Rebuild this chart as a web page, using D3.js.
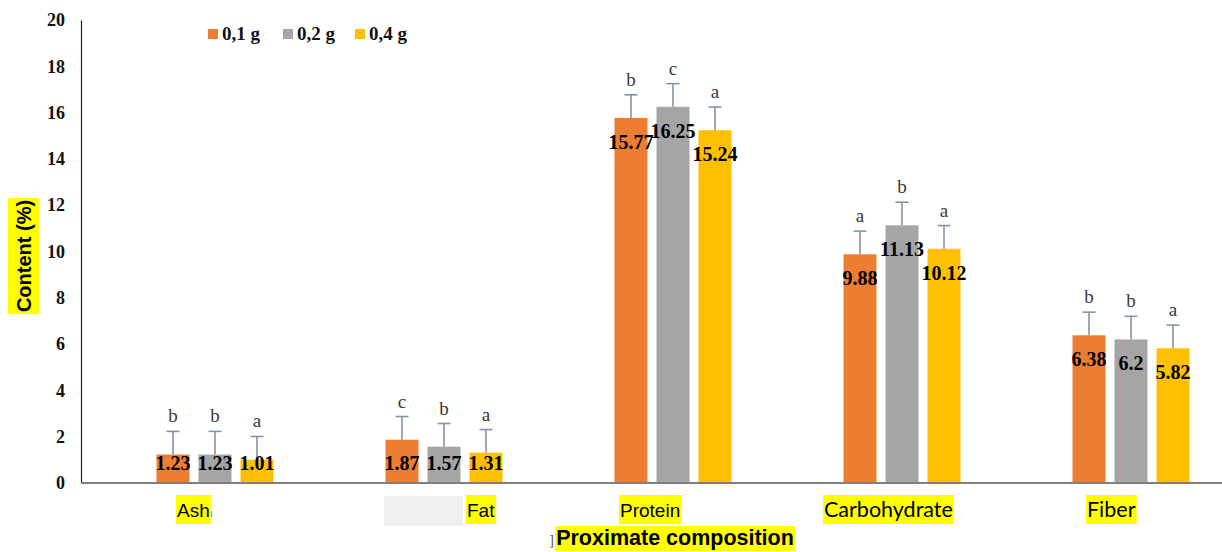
<!DOCTYPE html>
<html>
<head>
<meta charset="utf-8">
<script src="https://cdn.jsdelivr.net/npm/d3@7"></script>
<style>
  html, body { margin: 0; padding: 0; background: #fff; }
  svg { display: block; }
</style>
</head>
<body>
<svg id="chart" width="1222" height="552"></svg>
<script>
// Proximate composition by sample dose
const categories = ["Ash", "Fat", "Protein", "Carbohydrate", "Fiber"];
const seriesNames = ["0,1 g", "0,2 g", "0,4 g"];
const seriesColors = ["#ED7D31", "#A5A5A5", "#FFC000"];
const values01 = [1.23, 1.87, 15.77, 9.88, 6.38];
const values02 = [1.23, 1.57, 16.25, 11.13, 6.2];
const values04 = [1.01, 1.31, 15.24, 10.12, 5.82];
const errors01 = [1, 1, 1, 1, 1];
const errors02 = [1, 1, 1, 1, 1];
const errors04 = [1, 1, 1, 1, 1];
const letters01 = ["b", "c", "b", "a", "b"];
const letters02 = ["b", "b", "c", "b", "b"];
const letters04 = ["a", "a", "a", "a", "a"];
const yTicks = [0, 2, 4, 6, 8, 10, 12, 14, 16, 18, 20];

const seriesValues = [values01, values02, values04];
const seriesErrors = [errors01, errors02, errors04];
const seriesLetters = [letters01, letters02, letters04];

const svg = d3.select("#chart");

const y = d3.scaleLinear().domain([0, 20]).range([483, 20]);
const x0 = d3.scaleBand().domain(categories).range([100.5, 1245.5]);
const x1 = d3.scaleBand().domain(seriesNames).range([-63, 63])
  .paddingInner(9 / 42).paddingOuter(4.5 / 42);

const rows = [];
categories.forEach((c, i) => {
  seriesNames.forEach((s, j) => {
    rows.push({
      cat: c, ci: i, series: s, si: j,
      v: seriesValues[j][i], e: seriesErrors[j][i], letter: seriesLetters[j][i]
    });
  });
});
const left = d => x0(d.cat) + x0.bandwidth() / 2 + x1(d.series);
const mid = d => left(d) + x1.bandwidth() / 2;

// Y axis
const yAxis = svg.append("g")
  .attr("transform", "translate(81,0)")
  .call(d3.axisLeft(y).tickValues(yTicks).tickSize(0).tickPadding(16));
yAxis.select(".domain").attr("stroke", "#222").attr("stroke-width", 1.2);
yAxis.selectAll("text")
  .attr("font-family", "'Liberation Serif', 'Times New Roman', serif")
  .attr("font-weight", "bold")
  .attr("font-size", 18)
  .attr("fill", "#111");

// Bars
svg.append("g").selectAll("rect").data(rows).join("rect")
  .attr("x", d => left(d))
  .attr("width", x1.bandwidth())
  .attr("y", d => y(d.v))
  .attr("height", d => y(0) - y(d.v))
  .attr("fill", d => seriesColors[d.si]);

// X axis baseline
svg.append("line")
  .attr("x1", 81).attr("x2", 1222)
  .attr("y1", y(0)).attr("y2", y(0))
  .attr("stroke", "#7f7f7f").attr("stroke-width", 2);

// Error bars (upper only)
const eb = svg.append("g").attr("stroke", "#8494a4").attr("stroke-width", 1.6);
eb.selectAll("line.v").data(rows).join("line").attr("class", "v")
  .attr("x1", mid).attr("x2", mid)
  .attr("y1", d => y(d.v)).attr("y2", d => y(d.v + d.e));
eb.selectAll("line.cap").data(rows).join("line").attr("class", "cap")
  .attr("x1", d => mid(d) - 6.5)
  .attr("x2", d => mid(d) + 6.5)
  .attr("y1", d => y(d.v + d.e)).attr("y2", d => y(d.v + d.e));

// Significance letters
svg.append("g").selectAll("text").data(rows).join("text")
  .attr("x", mid)
  .attr("y", d => y(d.v + d.e) - 9)
  .attr("text-anchor", "middle")
  .attr("font-family", "'Liberation Serif', 'Times New Roman', serif")
  .attr("font-size", 19)
  .attr("fill", "#3a3a3a")
  .text(d => d.letter);

// Value labels: just inside the bar top; short bars share a common level
const shortBarLevel = 0.85;
svg.append("g").selectAll("text").data(rows).join("text")
  .attr("x", mid)
  .attr("y", d => (d.v < 3 ? y(shortBarLevel) : y(d.v) + 24) + 7)
  .attr("text-anchor", "middle")
  .attr("font-family", "'Liberation Serif', 'Times New Roman', serif")
  .attr("font-weight", "bold")
  .attr("font-size", 20)
  .attr("fill", "#000")
  .text(d => d.v);

// Highlighted text helper
function highlighted(g, txt, xPos, yPos, opts) {
  const grp = g.append("g");
  const t = grp.append("text")
    .attr("x", xPos).attr("y", yPos)
    .attr("text-anchor", opts.anchor || "middle")
    .attr("font-family", opts.family || "'Liberation Sans', Arial, sans-serif")
    .attr("font-size", opts.size)
    .attr("font-weight", opts.weight || "normal")
    .attr("fill", "#000")
    .text(txt);
  const bb = t.node().getBBox();
  grp.insert("rect", "text")
    .attr("x", bb.x - (opts.padX || 1))
    .attr("y", yPos - opts.above)
    .attr("width", bb.width + 2 * (opts.padX || 1))
    .attr("height", opts.boxH)
    .attr("fill", "#FFFF00");
  return grp;
}

// Category labels (left edges as typed in the figure)
const labelLeft = { Ash: 176, Fat: 466, Protein: 619, Carbohydrate: 823, Fiber: 1086 };
const labelFont = {
  Ash: "'Liberation Sans', Arial, sans-serif",
  Fat: "'Liberation Sans', Arial, sans-serif",
  Protein: "'Liberation Sans', Arial, sans-serif",
  Carbohydrate: "Lato, 'Open Sans', sans-serif",
  Fiber: "Lato, 'Open Sans', sans-serif"
};
const labelSize = { Ash: 19, Fat: 19, Protein: 19, Carbohydrate: 21.5, Fiber: 21.5 };
const catG = svg.append("g");
// faint placeholder box left of "Fat"
catG.append("rect")
  .attr("x", 384).attr("y", 496).attr("width", 79).attr("height", 30)
  .attr("fill", "#efefef");
categories.forEach(c => {
  highlighted(catG, c, labelLeft[c] + 1, 517,
    { size: labelSize[c], family: labelFont[c], anchor: "start", above: 22, boxH: 29, padX: 1 });
});
// small stray mark next to "Ash"
catG.append("text").attr("x", 210).attr("y", 517)
  .attr("font-family", "'Liberation Sans', sans-serif").attr("font-size", 10)
  .attr("fill", "#777").text("ı");

// X axis title
highlighted(svg, "Proximate composition", 675, 545,
  { size: 21.5, weight: "bold", above: 19, boxH: 25, padX: 1 });
svg.append("text")
  .attr("x", 549).attr("y", 545)
  .attr("font-family", "'Liberation Serif', serif")
  .attr("font-size", 15).attr("fill", "#555")
  .text("]");

// Y axis title (rotated)
const yTitle = svg.append("g").attr("transform", "translate(31,256) rotate(-90)");
highlighted(yTitle, "Content (%)", 0, 0, { size: 20, weight: "bold", above: 23, boxH: 31, padX: 2 });

// Legend
const legend = svg.append("g");
const legendX = [208, 283, 355];
seriesNames.forEach((s, j) => {
  legend.append("rect")
    .attr("x", legendX[j]).attr("y", 29)
    .attr("width", 10).attr("height", 10)
    .attr("fill", seriesColors[j]);
  legend.append("text")
    .attr("x", legendX[j] + 14).attr("y", 40)
    .attr("font-family", "'Liberation Serif', 'Times New Roman', serif")
    .attr("font-weight", "bold")
    .attr("font-size", 19)
    .attr("fill", "#111")
    .text(s);
});
</script>
</body>
</html>
